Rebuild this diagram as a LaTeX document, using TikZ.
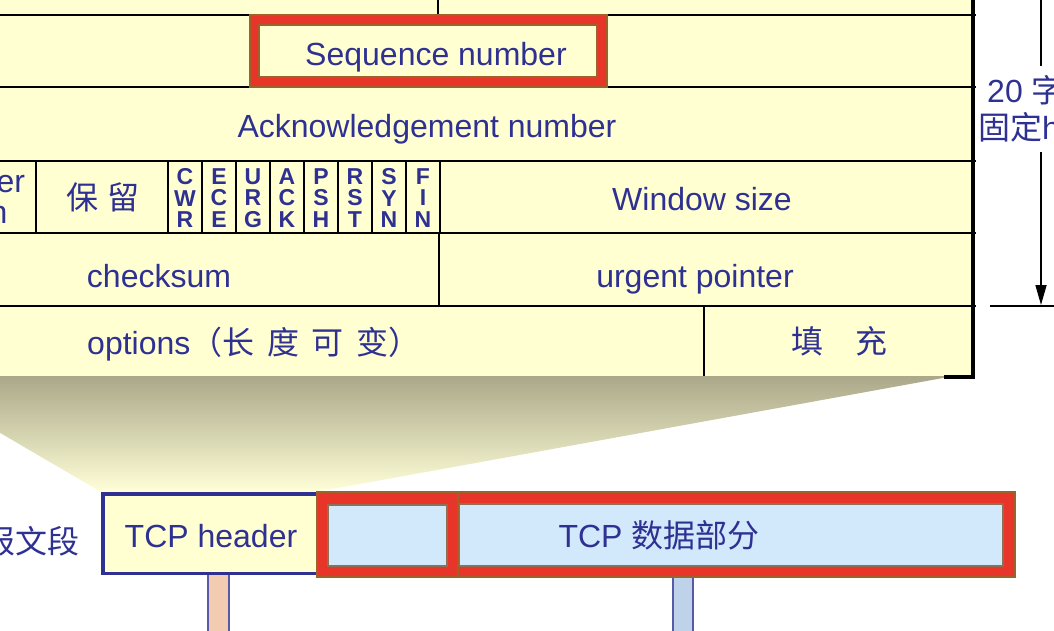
\documentclass[tikz,border=0pt]{standalone}
\usepackage{fontspec}
\setmainfont{Liberation Sans}
\newfontfamily\cjk{Noto Sans CJK SC}
\usetikzlibrary{arrows.meta, positioning}

\definecolor{ink}{RGB}{46,49,146}
\definecolor{paper}{RGB}{255,255,210}
\definecolor{redband}{RGB}{232,53,42}
\definecolor{brownline}{RGB}{160,96,42}
\definecolor{databg}{RGB}{210,232,251}
\definecolor{shadetop}{RGB}{170,168,136}
\definecolor{shadebot}{RGB}{255,255,216}
\definecolor{pinkbar}{RGB}{242,203,176}
\definecolor{bluebar}{RGB}{190,211,234}

\begin{document}
\begin{tikzpicture}[x=1pt, y=-1pt,
   field/.style={text=ink, font=\fontsize{32}{31}\selectfont, inner sep=0pt},
   flag/.style={text=ink, font=\fontsize{23}{21.5}\selectfont\bfseries, align=center, inner sep=0pt},
   rule/.style={line width=2pt},
   redbox/.style={fill=redband, draw=brownline, line width=1.2pt},
   inbox/.style={fill=databg, draw=brownline!50!gray, line width=1.2pt},
   bar/.style={draw=ink!80, line width=1.5pt}]
   \useasboundingbox (0,0) rectangle (1054,630);
   \clip (0,0) rectangle (1054,630);

   % header table and the zoom wedge
   \fill[paper] (-10,-10) rectangle (973,376);
   \shade[top color=shadetop, bottom color=shadebot]
      (-97,376) -- (954,376) -- (316,492) -- (101,492) -- cycle;

   \foreach \y in {15,87,161,233,306}
      \draw[rule] (-10,\y) -- (976,\y);
   \draw[rule] (438,-10) -- (438,15);
   \foreach \x in {36,168,202,...,440}
      \draw[rule] (\x,161) -- (\x,233);
   \draw[rule] (439,233) -- (439,306);
   \draw[line width=1.5pt] (704,306) -- (704,376);
   \draw[line width=3.5pt] (973,-10) -- (973,377);
   \fill (944,375) rectangle (975,379);

   % red frame on the sequence number
   \draw[redbox] (250,15) rectangle (607,87);
   \draw[fill=paper, draw=brownline, line width=1.2pt] (259,25) rectangle (597,77);

   \node[field, anchor=base] (seq) at (436,65) {Sequence number};
   \node[field, anchor=base] (ack) at (427,137) {Acknowledgement number};
   \node[field, align=left, anchor=west] (hlen) at (-80,200) {Header\\length};
   \node[field, anchor=base] (rsv) at (103,209) {\cjk 保\hspace{0.3em}留};
   \foreach \a/\b/\c [count=\i] in {C/W/R, E/C/E, U/R/G, A/C/K, P/S/H, R/S/T, S/Y/N, F/I/N}
      \node[flag] (flag\i) at (151+34*\i,198) {\a\\ \b\\ \c};
   \node[field, anchor=base] (win) at (702,210) {Window size};
   \node[field, anchor=base] (chk) at (159,287) {checksum};
   \node[field, anchor=base] (urg) at (695,287) {urgent pointer};
   \node[field, anchor=base] (opt) at (254,354)
      {options{\cjk （长\hspace{0.4em}度\hspace{0.4em}可\hspace{0.4em}变）}};
   \node[field, anchor=base] (pad) at (839,353) {\cjk 填\hspace{1em}充};

   % 20 bytes span
   \coordinate (spantop) at (1041,-5);
   \coordinate (gaptop) at (1041,66);
   \coordinate (gapbot) at (1041,152);
   \coordinate (spanbot) at (1041,305);
   \coordinate (baseL) at (990,306);
   \coordinate (baseR) at (1060,306);
   \draw[line width=1.5pt] (spantop) -- (gaptop);
   \draw[line width=1.5pt, -{Triangle[length=20pt,width=11pt]}] (gapbot) -- (spanbot);
   \draw[line width=1.5pt] (baseL) -- (baseR);
   \node[field, anchor=base west] (fix1) at (987,102) {20 {\cjk 字节}};
   \node[field, anchor=base west] (fix2) at (978,139) {{\cjk 固定}header};

   % segment
   \draw[bar, fill=pinkbar] (208,570) rectangle (229,640);
   \draw[bar, fill=bluebar] (673,570) rectangle (693,640);
   \draw[ink, line width=3.5pt, fill=paper] (102.75,493.75) rectangle (318,573.25);
   \draw[redbox] (448,492) rectangle (1015,577);
   \draw[inbox] (459,504) rectangle (1003,566);
   \draw[redbox] (317,492) rectangle (458,577);
   \draw[inbox] (328,505) rectangle (447,566);

   \node[field, anchor=base] (hdr) at (211,547) {TCP header};
   \node[field, anchor=base] (data) at (659,547) {TCP {\cjk 数据部分}};
   \node[field, anchor=base east] (seg) at (80,553) {\cjk 报文段};
\end{tikzpicture}
\end{document}
